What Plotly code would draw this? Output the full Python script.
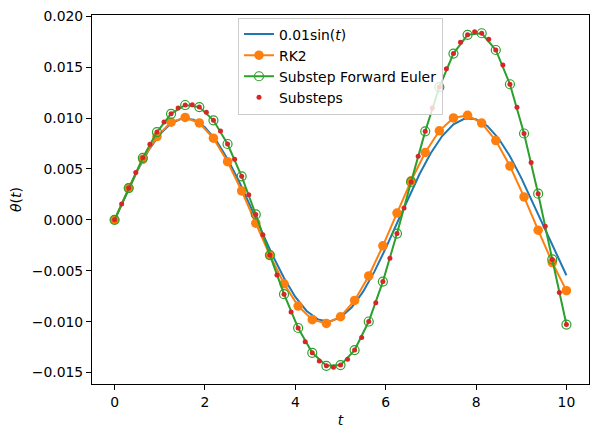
import plotly.graph_objects as go

exact_t = [0.0, 0.25, 0.5, 0.75, 1.0, 1.25, 1.5, 1.75, 2.0, 2.25, 2.5, 2.75, 3.0, 3.25,
           3.5, 3.75, 4.0, 4.25, 4.5, 4.75, 5.0, 5.25, 5.5, 5.75, 6.0, 6.25, 6.5, 6.75,
           7.0, 7.25, 7.5, 7.75, 8.0, 8.25, 8.5, 8.75, 9.0, 9.25, 9.5, 9.75, 10.0]
exact_y = [0.0, 0.002474, 0.004794, 0.006816, 0.008415, 0.00949, 0.009975, 0.00984,
           0.009093, 0.007781, 0.005985, 0.003817, 0.001411, -0.001082, -0.003508,
           -0.005716, -0.007568, -0.00895, -0.009775, -0.009993, -0.009589, -0.008589,
           -0.007055, -0.005083, -0.002794, -0.000332, 0.002151, 0.0045, 0.00657,
           0.008231, 0.00938, 0.009946, 0.009894, 0.009226, 0.007985, 0.006247,
           0.004121, 0.001739, -0.000752, -0.003195, -0.00544]

# RK2 steps
rk2_t = [0.0, 0.3125, 0.625, 0.9375, 1.25, 1.5625, 1.875, 2.1875, 2.5, 2.8125, 3.125,
         3.4375, 3.75, 4.0625, 4.375, 4.6875, 5.0, 5.3125, 5.625, 5.9375, 6.25, 6.5625,
         6.875, 7.1875, 7.5, 7.8125, 8.125, 8.4375, 8.75, 9.0625, 9.375, 9.6875, 10.0]
rk2_y = [0.0, 0.003125, 0.005945, 0.008177, 0.009596, 0.010058, 0.009516, 0.00802,
         0.005718, 0.002839, -0.000331, -0.003476, -0.00628, -0.008463, -0.009804,
         -0.010168, -0.009515, -0.007909, -0.005508, -0.00255, 0.00067, 0.003831,
         0.006616, 0.008746, 0.010006, 0.010268, 0.009503, 0.007786, 0.005286,
         0.002251, -0.001016, -0.00419, -0.006951]

# forward Euler substeps (half step)
sub_t = [0.0, 0.15625, 0.3125, 0.46875, 0.625, 0.78125, 0.9375, 1.09375, 1.25, 1.40625,
         1.5625, 1.71875, 1.875, 2.03125, 2.1875, 2.34375, 2.5, 2.65625, 2.8125, 2.96875,
         3.125, 3.28125, 3.4375, 3.59375, 3.75, 3.90625, 4.0625, 4.21875, 4.375, 4.53125,
         4.6875, 4.84375, 5.0, 5.15625, 5.3125, 5.46875, 5.625, 5.78125, 5.9375, 6.09375,
         6.25, 6.40625, 6.5625, 6.71875, 6.875, 7.03125, 7.1875, 7.34375, 7.5, 7.65625,
         7.8125, 7.96875, 8.125, 8.28125, 8.4375, 8.59375, 8.75, 8.90625, 9.0625, 9.21875,
         9.375, 9.53125, 9.6875, 9.84375, 10.0]
sub_y = [0.0, 0.001563, 0.003125, 0.004649, 0.006097, 0.007432, 0.008618, 0.009622,
         0.010416, 0.010975, 0.011279, 0.011316, 0.011077, 0.010562, 0.009777, 0.008734,
         0.007452, 0.005957, 0.00428, 0.002457, 0.00053, -0.001457, -0.003457, -0.005421,
         -0.007301, -0.009049, -0.010618, -0.011967, -0.013056, -0.013853, -0.014331,
         -0.014471, -0.014262, -0.013699, -0.012787, -0.011542, -0.009984, -0.008144,
         -0.006061, -0.003778, -0.001348, 0.001174, 0.00373, 0.006256, 0.008692,
         0.010975, 0.013046, 0.014848, 0.016333, 0.017454, 0.018177, 0.018474, 0.018327,
         0.017729, 0.016684, 0.015206, 0.01332, 0.011063, 0.008481, 0.005629, 0.00257,
         -0.000626, -0.003886, -0.00713, -0.010279]

# full substep Euler points are every other substep
euler_t = sub_t[::2]
euler_y = sub_y[::2]

fig = go.Figure()
fig.add_trace(go.Scatter(x=exact_t, y=exact_y, mode="lines", name="0.01sin(<i>t</i>)",
                         line=dict(color="#1f77b4", width=2)))
fig.add_trace(go.Scatter(x=rk2_t, y=rk2_y, mode="lines+markers", name="RK2",
                         line=dict(color="#ff7f0e", width=2),
                         marker=dict(size=9.5, color="#ff7f0e")))
fig.add_trace(go.Scatter(x=euler_t, y=euler_y, mode="lines+markers", name="Substep Forward Euler",
                         line=dict(color="#2ca02c", width=2),
                         marker=dict(symbol="circle-open", size=9, color="#2ca02c",
                                     line=dict(width=1.2))))
fig.add_trace(go.Scatter(x=sub_t, y=sub_y, mode="markers", name="Substeps",
                         marker=dict(size=5, color="#d62728")))

axis_style = dict(showline=True, mirror=True, linecolor="black", linewidth=1.1,
                  ticks="outside", ticklen=5, tickwidth=1.1, tickcolor="black",
                  showgrid=False, zeroline=False, automargin=False,
                  tickfont=dict(size=13.9, color="black"))

fig.update_xaxes(range=[-0.5, 10.5], tickvals=[0, 2, 4, 6, 8, 10],
                 title=dict(text="<i>t</i>", font=dict(size=13.9), standoff=6),
                 **axis_style)
fig.update_yaxes(range=[-0.01612, 0.02012],
                 tickvals=[-0.015, -0.01, -0.005, 0.0, 0.005, 0.01, 0.015, 0.02],
                 tickformat=".3f",
                 title=dict(text="<i>θ</i>(<i>t</i>)", font=dict(size=13.9), standoff=7),
                 **axis_style)

# page body adds 8px offset, so size/margins are trimmed to land the axes where the original sits
fig.update_layout(
    width=590, height=429,
    margin=dict(l=84, r=9, t=7, b=53),
    paper_bgcolor="white", plot_bgcolor="white",
    font=dict(family="DejaVu Sans", size=13.9, color="black"),
    legend=dict(x=0.5, y=0.993, xanchor="center", yanchor="top",
                bgcolor="rgba(255,255,255,0.8)", bordercolor="#cccccc", borderwidth=1,
                font=dict(size=13.9)),
)

fig.write_html("out.html")
